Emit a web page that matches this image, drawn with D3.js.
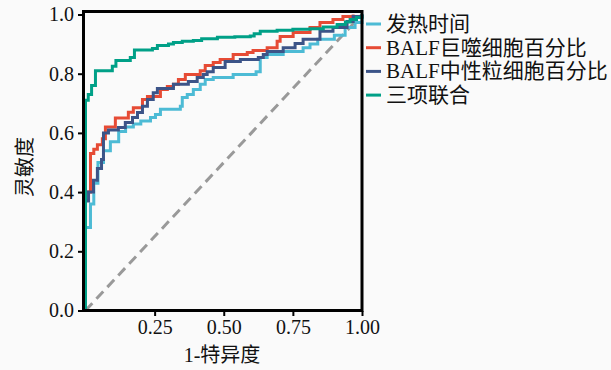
<!DOCTYPE html>
<html>
<head>
<meta charset="utf-8">
<style>
  body { margin: 0; background: #fafafa; }
  text { font-family: "Liberation Serif", "Noto Sans CJK SC", serif; fill: #111; }
</style>
</head>
<body>

<script src="https://d3js.org/d3.v7.min.js"></script>

<script>

// ROC step points: [1-specificity, sensitivity]
const feverTime = [
  [0, 0], [0, 0.28], [0.018, 0.36], [0.03, 0.43], [0.045, 0.50], [0.065, 0.54],
  [0.09, 0.57], [0.12, 0.605], [0.145, 0.62], [0.173, 0.63], [0.2, 0.64],
  [0.235, 0.652], [0.253, 0.662], [0.271, 0.68], [0.343, 0.69], [0.35, 0.72],
  [0.368, 0.73], [0.39, 0.747], [0.415, 0.764], [0.433, 0.78], [0.462, 0.787],
  [0.534, 0.797], [0.617, 0.807], [0.632, 0.855], [0.657, 0.865], [0.715, 0.875],
  [0.787, 0.888], [0.812, 0.90], [0.84, 0.916], [0.90, 0.93], [0.939, 0.956],
  [0.975, 0.973], [1, 1]
];

const macrophage = [
  [0, 0], [0, 0.40], [0.018, 0.53], [0.03, 0.545], [0.043, 0.56], [0.061, 0.58],
  [0.072, 0.62], [0.108, 0.65], [0.155, 0.67], [0.173, 0.685], [0.206, 0.713],
  [0.224, 0.723], [0.271, 0.747], [0.296, 0.757], [0.318, 0.764], [0.336, 0.78],
  [0.361, 0.797], [0.415, 0.81], [0.433, 0.828], [0.462, 0.838], [0.487, 0.848],
  [0.534, 0.865], [0.585, 0.872], [0.606, 0.878], [0.657, 0.888], [0.693, 0.91],
  [0.704, 0.926], [0.751, 0.939], [0.812, 0.956], [0.848, 0.973], [0.895, 0.983],
  [0.931, 0.993], [0.968, 1.0]
];

const neutrophil = [
  [0, 0], [0, 0.37], [0.011, 0.40], [0.029, 0.44], [0.043, 0.48], [0.058, 0.51],
  [0.065, 0.60], [0.083, 0.61], [0.119, 0.618], [0.144, 0.635], [0.17, 0.652],
  [0.188, 0.669], [0.206, 0.69], [0.224, 0.713], [0.245, 0.736], [0.26, 0.75],
  [0.318, 0.764], [0.372, 0.774], [0.404, 0.787], [0.426, 0.797], [0.44, 0.807],
  [0.462, 0.821], [0.505, 0.841], [0.56, 0.848], [0.625, 0.855], [0.643, 0.865],
  [0.657, 0.875], [0.715, 0.888], [0.758, 0.902], [0.787, 0.916], [0.848, 0.943],
  [0.895, 0.956], [0.946, 0.976], [0.968, 0.993], [1, 1]
];

const combined = [
  [0, 0], [0, 0.71], [0.01, 0.73], [0.022, 0.76], [0.036, 0.81], [0.097, 0.825],
  [0.11, 0.845], [0.162, 0.855], [0.177, 0.88], [0.242, 0.885], [0.26, 0.895],
  [0.3, 0.9], [0.318, 0.905], [0.35, 0.91], [0.39, 0.912], [0.42, 0.918],
  [0.477, 0.923], [0.54, 0.925], [0.596, 0.927], [0.61, 0.935], [0.632, 0.943],
  [0.693, 0.947], [0.75, 0.95], [0.812, 0.952], [0.86, 0.958], [0.91, 0.966],
  [0.94, 0.975], [0.957, 0.983], [0.98, 0.99], [1, 1]
];

const seriesNames = ['发热时间', 'BALF巨噬细胞百分比', 'BALF中性粒细胞百分比', '三项联合'];
const seriesData = [feverTime, macrophage, neutrophil, combined];
const colors = ['#4DBBD5', '#E64B35', '#3C5488', '#00A087'];

const xTicks = [0.25, 0.50, 0.75, 1.00];
const yTicks = [0, 0.2, 0.4, 0.6, 0.8, 1.0];

const width = 611;
const height = 370;

const svg = d3.select('body')
              .append('svg')
              .attr('width', width)
              .attr('height', height);

const x = d3.scaleLinear().domain([0, 1]).range([85.5, 362]);
const y = d3.scaleLinear().domain([0, 1]).range([310.5, 14.5]);

const line = d3.line()
               .x(d => x(d[0]))
               .y(d => y(d[1]))
               .curve(d3.curveStepAfter);

// reference diagonal
svg.append('line')
   .attr('x1', x(0)).attr('y1', y(0))
   .attr('x2', x(1)).attr('y2', y(1))
   .attr('stroke', '#999')
   .attr('stroke-width', 3)
   .attr('stroke-dasharray', '10,6');

seriesData.forEach((s, i) => {
  svg.append('path')
     .attr('d', line(s))
     .attr('fill', 'none')
     .attr('stroke', colors[i])
     .attr('stroke-width', 3);
});

// frame
svg.append('rect')
   .attr('x', 83.5).attr('y', 11.5)
   .attr('width', 362 - 83.5).attr('height', 310.5 - 11.5)
   .attr('fill', 'none')
   .attr('stroke', '#000')
   .attr('stroke-width', 3);

const xAxis = svg.append('g')
   .attr('transform', 'translate(0,311)')
   .call(d3.axisBottom(x).tickValues(xTicks).tickFormat(d3.format('.2f')).tickSize(5).tickPadding(4));

const yAxis = svg.append('g')
   .attr('transform', 'translate(83,0)')
   .call(d3.axisLeft(y).tickValues(yTicks).tickFormat(d3.format('.1f')).tickSize(5).tickPadding(4));

[xAxis, yAxis].forEach(g => {
  g.select('.domain').remove();
  g.selectAll('line').attr('stroke', '#000').attr('stroke-width', 2);
  g.selectAll('text').attr('font-size', 20).attr('fill', '#111')
   .style('font-family', '"Liberation Serif", serif');
});

svg.append('text')
   .attr('x', 222).attr('y', 362)
   .attr('text-anchor', 'middle')
   .attr('font-size', 20)
   .text('1-特异度');

svg.append('text')
   .attr('transform', 'translate(32,167) rotate(-90)')
   .attr('text-anchor', 'middle')
   .attr('font-size', 20)
   .text('灵敏度');

const legend = svg.append('g').attr('transform', 'translate(366,24)');

seriesNames.forEach((name, i) => {
  const row = legend.append('g').attr('transform', `translate(0,${i * 23.7})`);
  row.append('line')
     .attr('x1', 0).attr('x2', 15)
     .attr('stroke', colors[i])
     .attr('stroke-width', 3);
  row.append('text')
     .attr('x', 20).attr('y', 7)
     .attr('font-size', 21)
     .text(name);
});

</script>
</body>
</html>
